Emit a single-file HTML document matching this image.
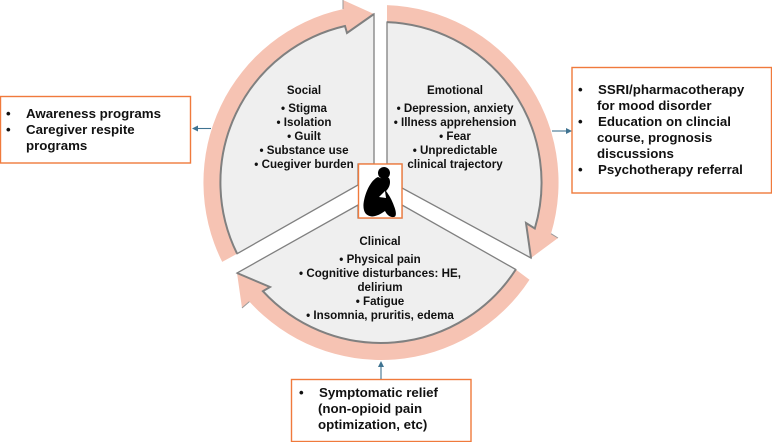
<!DOCTYPE html>
<html>
<head>
<meta charset="utf-8">
<style>
html,body{margin:0;padding:0;background:#fff;}
svg{display:block;filter:blur(0.3px);}
text{font-family:"Liberation Sans",Arial,sans-serif;font-weight:bold;fill:#111;}
.c{font-size:11.6px;text-anchor:middle;}
.b{font-size:13.3px;}
</style>
</head>
<body>
<svg width="772" height="442" viewBox="0 0 772 442" xmlns="http://www.w3.org/2000/svg">
<!-- gray sectors -->
<path d="M374 14 L347 33 L345 26 A160.5 160.5 0 0 0 237.1 253.7 L358 185 L358 164 L374 164 Z" fill="#efefef" stroke="#808080" stroke-width="1.3"/>
<path d="M387 22.1 A160.5 160.5 0 0 1 534.8 228.5 L526 223 L531 258 L402 188 L402 164 L387 164 Z" fill="#efefef" stroke="#808080" stroke-width="1.3"/>
<path d="M515.8 269.5 A160.5 160.5 0 0 1 262.9 291.2 L270 287 L237 273 L358 205 L358 218 L402 218 L402 205 Z" fill="#efefef" stroke="#808080" stroke-width="1.3"/>
<!-- rings -->
<path d="M222.2 261.9 A177.5 177.5 0 0 1 343 9.1 L343 0 L374 14 L347 33 L345 26 A160.5 160.5 0 0 0 237.1 253.7 Z" fill="#f6c3b3"/>
<path d="M387 5.1 A177.5 177.5 0 0 1 551 233.7 L558 238 L531 258 L526 223 L534.8 228.5 A160.5 160.5 0 0 0 387 22.1 Z" fill="#f6c3b3"/>
<path d="M529.5 279.7 A177.5 177.5 0 0 1 249.4 301.6 L242 308 L237 273 L270 287 L262.9 291.2 A160.5 160.5 0 0 0 515.8 269.5 Z" fill="#f6c3b3"/>
<!-- gray inner edges over rings -->
<path d="M374 14 L347 33 L345 26 A160.5 160.5 0 0 0 237.1 253.7" fill="none" stroke="#808080" stroke-width="2"/>
<path d="M387 22.1 A160.5 160.5 0 0 1 534.8 228.5 L526 223 L531 258" fill="none" stroke="#808080" stroke-width="2"/>
<path d="M515.8 269.5 A160.5 160.5 0 0 1 262.9 291.2 L270 287 L237 273" fill="none" stroke="#808080" stroke-width="2"/>
<!-- barb stubs -->
<g stroke="#9a9a9a" stroke-width="1" fill="none">
<path d="M343 9 L343 0"/>
<path d="M551 233.7 L558 238"/>
<path d="M249.4 301.6 L242 308"/>
</g>

<!-- centre box -->
<rect x="358.5" y="164" width="43.5" height="54" fill="#fff" stroke="#f07a3c" stroke-width="1.4"/>
<g fill="#000">
<circle cx="384" cy="173" r="6"/>
<path d="M378 177 C371 180 365 192 363.5 204 C363 212 366 216 372 216.5 C376 216.5 381 214 385 211 C387 215 390 217.5 394 217 C397 216 396 211 394 206 C392 200 389 195 386 191 C388 189 390 186 390 182 C390 178 388 176 385 178 C382 179 380 178 378 177 Z"/>
</g>
<path d="M385 191 L379 197 L386 198 Z" fill="#fff"/>

<!-- sector text -->
<text class="c" x="304" y="94">Social</text>
<text class="c" x="304" y="112">• Stigma</text>
<text class="c" x="304" y="126">• Isolation</text>
<text class="c" x="304" y="140">• Guilt</text>
<text class="c" x="304" y="154">• Substance use</text>
<text class="c" x="304" y="168">• Cuegiver burden</text>

<text class="c" x="455" y="94">Emotional</text>
<text class="c" x="455" y="112">• Depression, anxiety</text>
<text class="c" x="455" y="126">• Illness apprehension</text>
<text class="c" x="455" y="140">• Fear</text>
<text class="c" x="455" y="154">• Unpredictable</text>
<text class="c" x="455" y="168">clinical trajectory</text>

<text class="c" x="380" y="245">Clinical</text>
<text class="c" x="380" y="263">• Physical pain</text>
<text class="c" x="380" y="277">• Cognitive disturbances: HE,</text>
<text class="c" x="380" y="291">delirium</text>
<text class="c" x="380" y="305">• Fatigue</text>
<text class="c" x="380" y="319">• Insomnia, pruritis, edema</text>

<!-- side boxes -->
<rect x="0.5" y="96.5" width="190" height="66.5" fill="#fff" stroke="#f07a3c" stroke-width="1.4"/>
<text class="b" x="6" y="118">•</text><text class="b" x="26" y="118">Awareness programs</text>
<text class="b" x="6" y="134">•</text><text class="b" x="26" y="134">Caregiver respite</text>
<text class="b" x="26" y="150">programs</text>

<rect x="572" y="67.5" width="199.5" height="125.5" fill="#fff" stroke="#f07a3c" stroke-width="1.4"/>
<text class="b" x="578" y="94">•</text><text class="b" x="598" y="94">SSRI/pharmacotherapy</text>
<text class="b" x="597" y="110">for mood disorder</text>
<text class="b" x="578" y="126">•</text><text class="b" x="598" y="126">Education on clincial</text>
<text class="b" x="597" y="142">course, prognosis</text>
<text class="b" x="597" y="158">discussions</text>
<text class="b" x="578" y="174">•</text><text class="b" x="598" y="174">Psychotherapy referral</text>

<rect x="291.5" y="379.5" width="179.5" height="62" fill="#fff" stroke="#f07a3c" stroke-width="1.4"/>
<text class="b" x="299" y="397">•</text><text class="b" x="319" y="397">Symptomatic relief</text>
<text class="b" x="318" y="413">(non-opioid pain</text>
<text class="b" x="318" y="429">optimization, etc)</text>

<!-- arrows -->
<g stroke="#3f7391" stroke-width="1.1" fill="#3f7391">
<line x1="211" y1="128.5" x2="196" y2="128.5"/>
<path d="M192 128.5 L198 125.5 L198 131.5 Z" stroke="none"/>
<line x1="552" y1="131" x2="567" y2="131"/>
<path d="M572 131 L566 128 L566 134 Z" stroke="none"/>
<line x1="381" y1="379" x2="381" y2="367"/>
<path d="M381 361 L378 367 L384 367 Z" stroke="none"/>
</g>
</svg>
</body>
</html>
